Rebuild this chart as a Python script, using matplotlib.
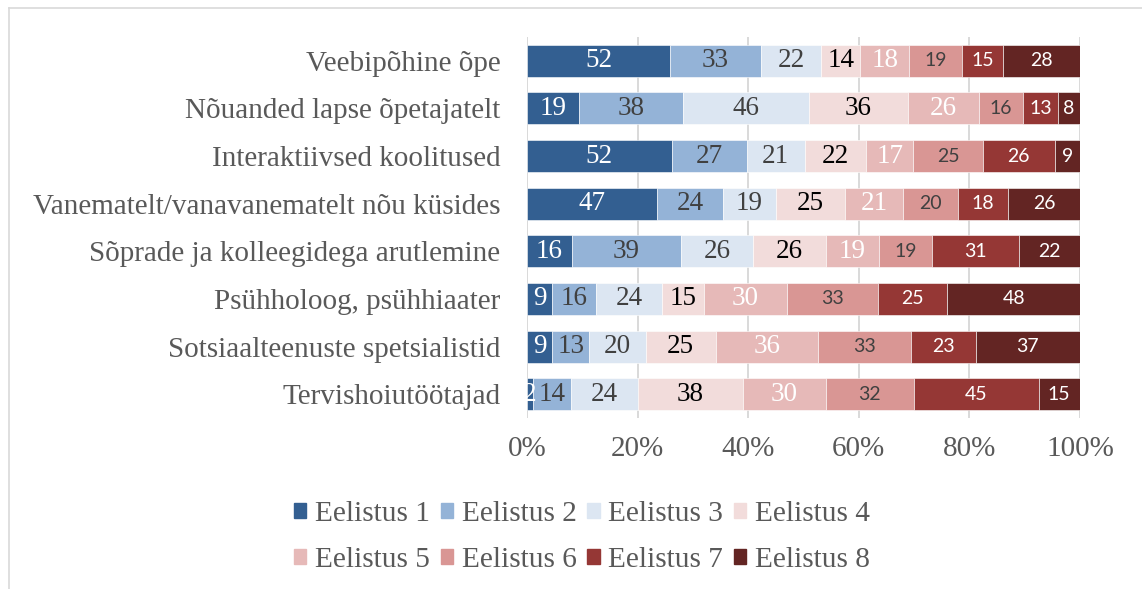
#!/usr/bin/python
import numpy as np
import matplotlib
matplotlib.use('Agg')
import matplotlib.pyplot as plt
from matplotlib.patches import Rectangle
from matplotlib.lines import Line2D

categories = ['Veebipõhine õpe',
              'Nõuanded lapse õpetajatelt',
              'Interaktiivsed koolitused',
              'Vanematelt/vanavanematelt nõu küsides',
              'Sõprade ja kolleegidega arutlemine',
              'Psühholoog, psühhiaater',
              'Sotsiaalteenuste spetsialistid',
              'Tervishoiutöötajad']

series = ['Eelistus 1', 'Eelistus 2', 'Eelistus 3', 'Eelistus 4',
          'Eelistus 5', 'Eelistus 6', 'Eelistus 7', 'Eelistus 8']

eelistus1 = [52, 19, 52, 47, 16, 9, 9, 2]
eelistus2 = [33, 38, 27, 24, 39, 16, 13, 14]
eelistus3 = [22, 46, 21, 19, 26, 24, 20, 24]
eelistus4 = [14, 36, 22, 25, 26, 15, 25, 38]
eelistus5 = [18, 26, 17, 21, 19, 30, 36, 30]
eelistus6 = [19, 16, 25, 20, 19, 33, 33, 32]
eelistus7 = [15, 13, 26, 18, 31, 25, 23, 45]
eelistus8 = [28, 8, 9, 26, 22, 48, 37, 15]

colors = ['#335F91', '#94B3D7', '#DCE6F2', '#F2DCDB',
          '#E6B9B8', '#D99694', '#953735', '#632523']
labelColors = ['white', '#404040', '#404040', 'black',
               'white', '#404040', 'white', 'white']
SERIF = 'Liberation Serif'
SANS = 'Lato'
labelFonts = [SERIF, SERIF, SERIF, SERIF, SERIF, SANS, SANS, SANS]
GRAY = '#595959'


def main():
    data = np.array([eelistus1, eelistus2, eelistus3, eelistus4,
                     eelistus5, eelistus6, eelistus7, eelistus8], dtype=float)
    totals = data.sum(axis=0)
    pct = data / totals * 100

    fig = plt.figure(figsize=(11.42, 5.89), dpi=100)
    ax = fig.add_axes([527/1142, 1-418/589, 553/1142, 381/589])
    y = np.arange(len(categories))
    left = np.zeros(len(categories))
    handles = []
    for i in range(len(series)):
        ax.barh(y, pct[i], left=left, height=0.67, color=colors[i],
                edgecolor='white', linewidth=0.4, zorder=3)
        for j in range(len(categories)):
            cx = left[j] + pct[i][j] / 2
            if labelFonts[i] == SERIF:
                fs = 19.5
            else:
                fs = 14
            ax.text(cx, y[j], '%d' % data[i][j], ha='center', va='center',
                    color=labelColors[i], fontsize=fs, family=labelFonts[i], zorder=4)
        left = left + pct[i]
        handles.append(Rectangle((0, 0), 1, 1, color=colors[i]))

    ax.set_xlim(0, 100)
    ax.set_ylim(len(categories) - 0.5, -0.5)
    ax.set_xticks(np.arange(0, 101, 20))
    ax.set_xticklabels(['%d%%' % v for v in range(0, 101, 20)])
    ax.set_yticks(y)
    ax.set_yticklabels(categories)
    for lab in ax.get_xticklabels() + ax.get_yticklabels():
        lab.set_family(SERIF)
        lab.set_fontsize(21)
        lab.set_color(GRAY)
    ax.tick_params(axis='y', length=0, pad=19)
    ax.tick_params(axis='x', length=0, pad=13)
    ax.grid(axis='x', color='#D9D9D9', linewidth=1.4, zorder=0)
    for s in ax.spines.values():
        s.set_visible(False)

    order = [0, 4, 1, 5, 2, 6, 3, 7]
    leg = fig.legend([handles[k] for k in order], [series[k] for k in order],
                     ncol=4, loc='center', bbox_to_anchor=(582/1142, 1-537/589),
                     frameon=False, handlelength=0.41, handleheight=0.41,
                     handletextpad=0.3, columnspacing=0.37, labelspacing=0.68,
                     prop={'family': SERIF, 'size': 21.2})
    for t in leg.get_texts():
        t.set_color(GRAY)

    # chart frame (partially visible)
    fig.add_artist(Line2D([9/1142, 9/1142], [0, 1-8/589], color='#D9D9D9', linewidth=1.2))
    fig.add_artist(Line2D([9/1142, 1], [1-8/589, 1-8/589], color='#D9D9D9', linewidth=1.2))

    fig.savefig('out.png', dpi=100)


if __name__ == '__main__':
    main()
